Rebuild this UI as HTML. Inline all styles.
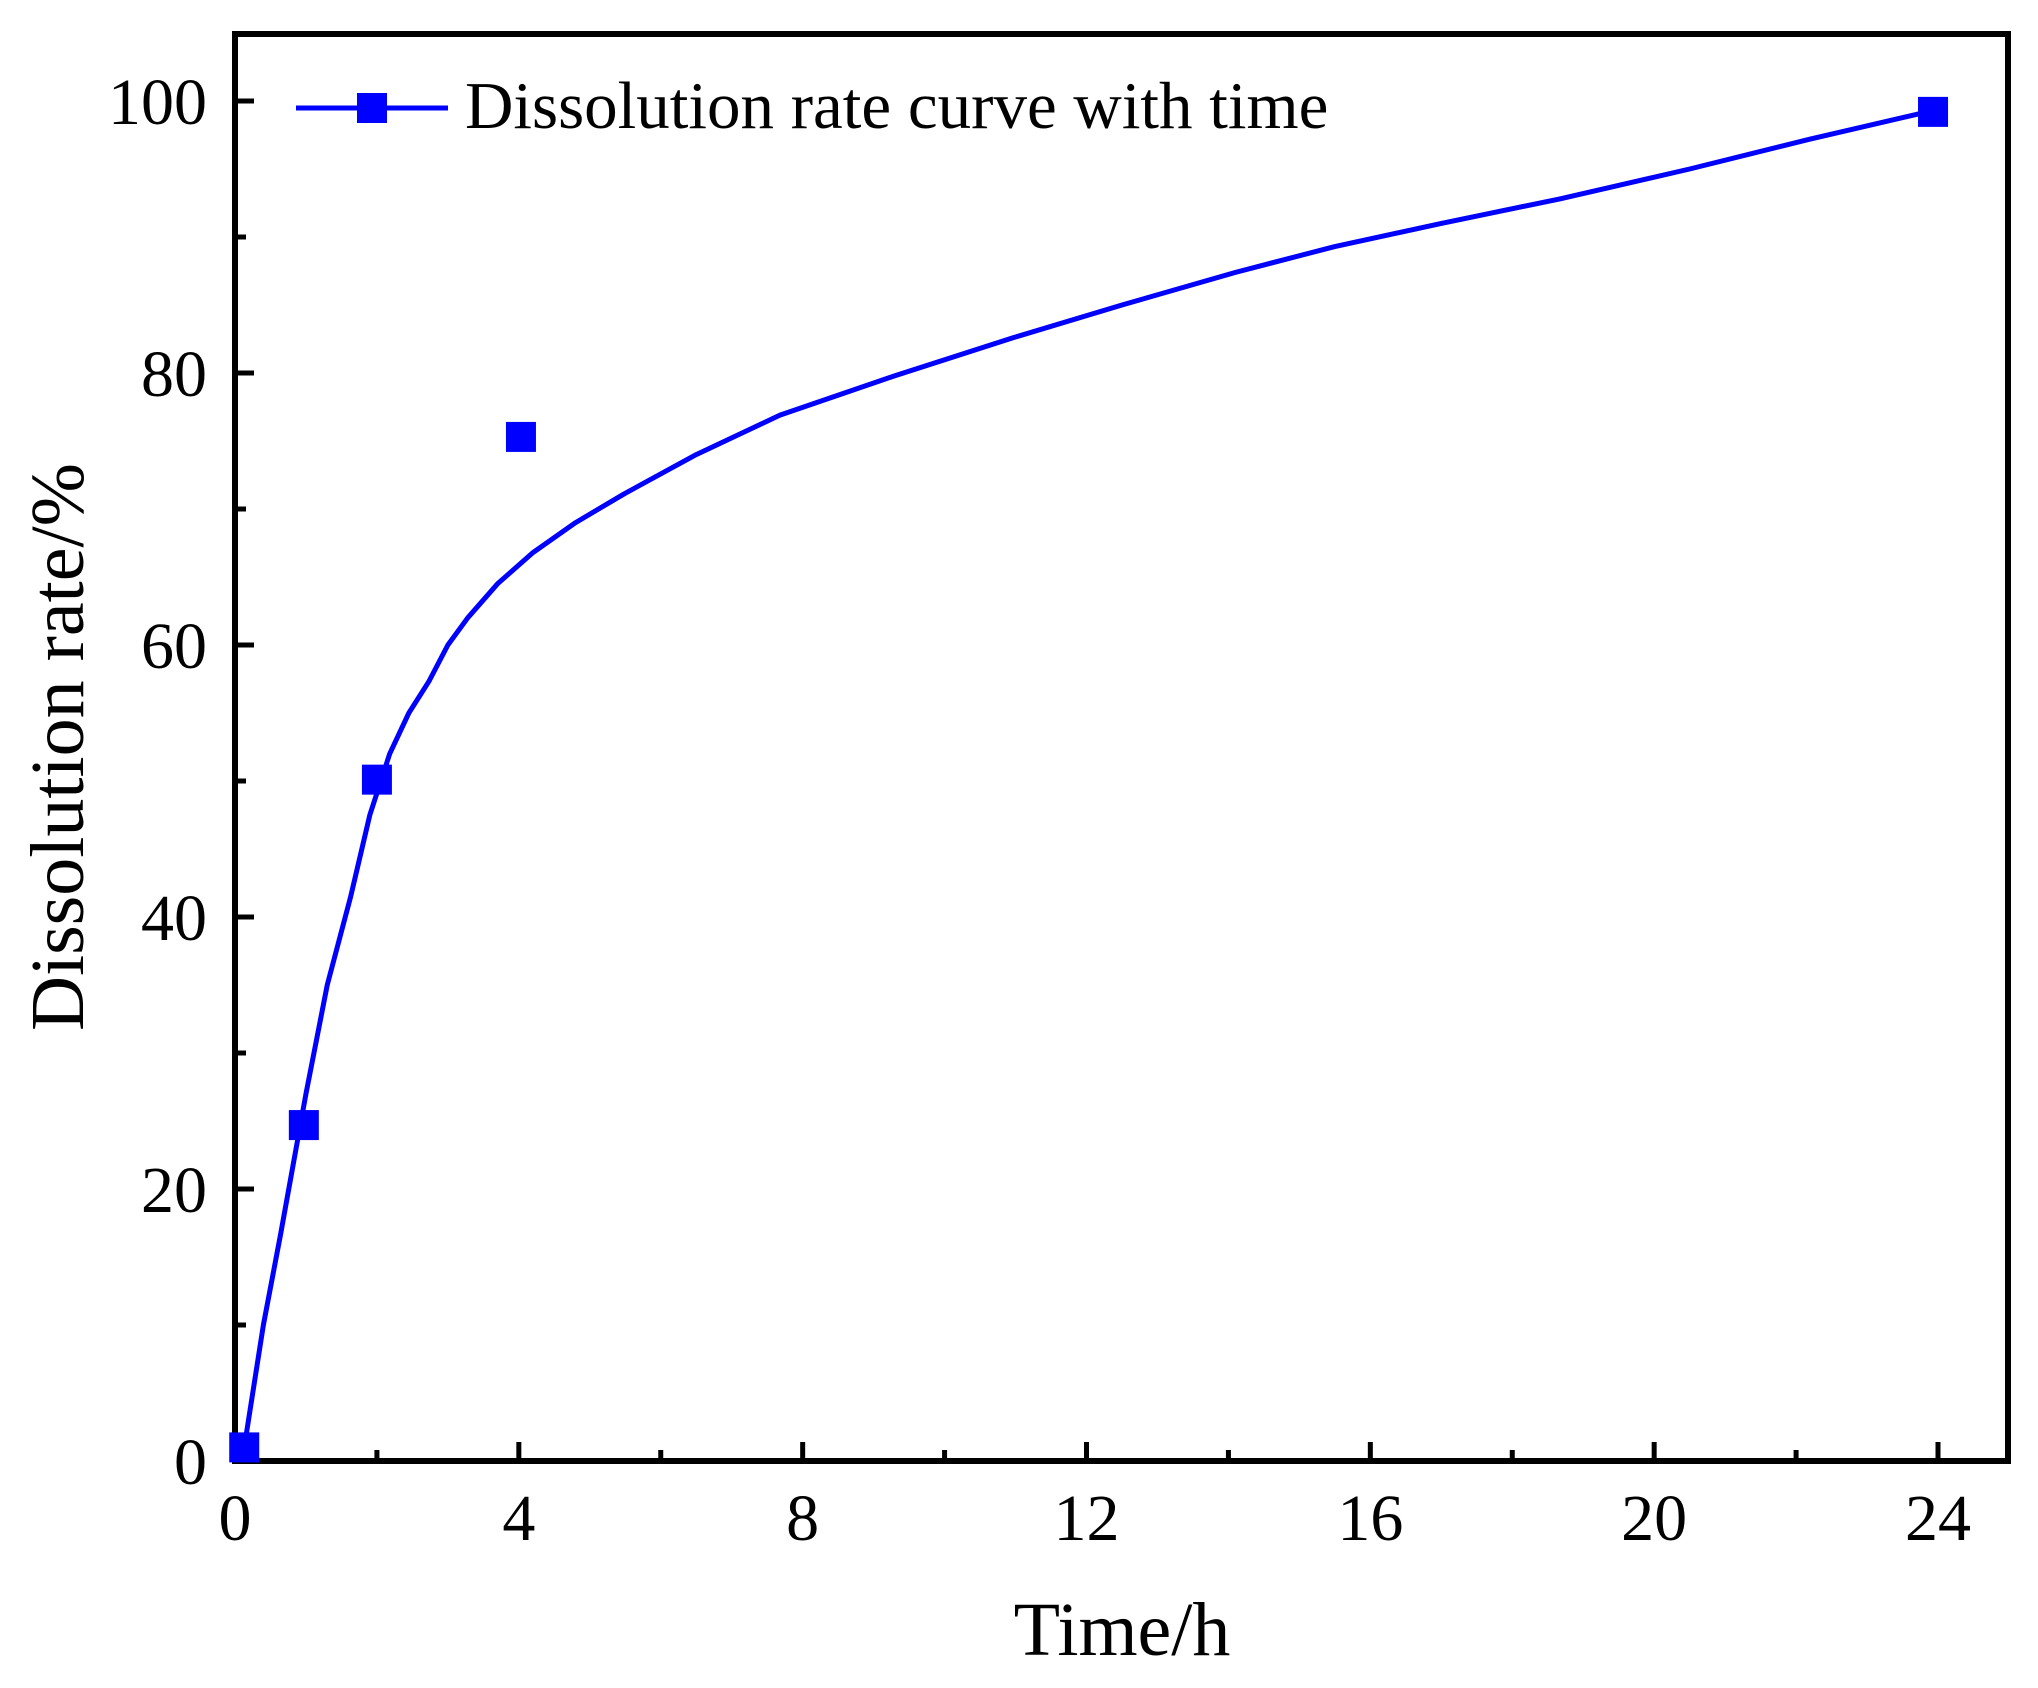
<!DOCTYPE html>
<html><head><meta charset="utf-8"><style>
html,body{margin:0;padding:0;background:#fff;}
svg{display:block;font-family:"Liberation Serif",serif;}
</style></head><body>
<svg id="chart" width="2038" height="1688" viewBox="0 0 2038 1688" xmlns="http://www.w3.org/2000/svg"></svg>
<script>
const pointTimes = [0.13, 0.97, 2.0, 4.03, 23.93];
const pointRates = [1.0, 24.7, 50.1, 75.3, 99.2];
const curveTimes = [0.1, 0.4, 0.64, 1.0, 1.3, 1.63, 1.9, 2.18, 2.45, 2.73, 3.0, 3.28, 3.7, 4.2, 4.8, 5.48, 6.5, 7.68, 9.3, 10.97, 12.5, 14.1, 15.5, 17.0, 18.67, 20.5, 22.2, 23.93];
const curveRates = [0, 10, 16.6, 27, 35, 41.5, 47.5, 52, 55, 57.3, 60, 62, 64.5, 66.8, 69, 71.1, 74, 76.9, 79.8, 82.6, 85, 87.4, 89.3, 91, 92.8, 95.0, 97.2, 99.3];
const xTicks = [0, 4, 8, 12, 16, 20, 24];
const yTicks = [0, 20, 40, 60, 80, 100];

const L = 235, R = 2008, T = 34, B = 1461;
const X = t => 235 + t * (1938 - 235) / 24;
const Y = v => 1461 - v * (1461 - 101) / 100;
const NS = "http://www.w3.org/2000/svg";
const svg = document.getElementById("chart");
function mk(tag, attrs, parent) {
  const e = document.createElementNS(NS, tag);
  for (const k in attrs) e.setAttribute(k, attrs[k]);
  (parent || svg).appendChild(e);
  return e;
}

for (let i = 0; i <= 12; i++) {
  const t = i * 2, major = i % 2 === 0;
  const tk = mk("line", {x1: X(t), x2: X(t), y1: B, y2: B - (major ? 19 : 11), stroke: "#000", "stroke-width": 5});
  
  
}
for (let i = 0; i <= 10; i++) {
  const v = i * 10, major = i % 2 === 0;
  const tk = mk("line", {x1: L, x2: L + (major ? 19 : 11), y1: Y(v), y2: Y(v), stroke: "#000", "stroke-width": 5});
  
  
}
xTicks.forEach(t => {
  const e = mk("text", {x: X(t), y: 1540, "font-size": 66, "text-anchor": "middle"});
  e.textContent = t;
  
  
});
yTicks.forEach(v => {
  const e = mk("text", {x: 207, y: Y(v) + 23, "font-size": 66, "text-anchor": "end"});
  e.textContent = v;
  
  
});

const frame = mk("rect", {x: L, y: T, width: R - L, height: B - T, fill: "none", stroke: "#000", "stroke-width": 6});



const pts = curveTimes.map((t, i) => X(t) + "," + Y(curveRates[i])).join(" ");
const curve = mk("polyline", {points: pts, fill: "none", stroke: "#0000ff", "stroke-width": 5, "stroke-linejoin": "round"});



pointTimes.forEach((t, i) => {
  const m = mk("rect", {x: X(t) - 15, y: Y(pointRates[i]) - 15, width: 30, height: 30, fill: "#0000ff"});
  
  
});

const lg = mk("g", {});


mk("line", {x1: 296, x2: 448, y1: 108, y2: 108, stroke: "#0000ff", "stroke-width": 5}, lg);
mk("rect", {x: 357, y: 93, width: 30, height: 30, fill: "#0000ff"}, lg);
const lt = mk("text", {x: 465, y: 128, "font-size": 67}, lg);
lt.textContent = "Dissolution rate curve with time";

const xt = mk("text", {x: 1122, y: 1655, "font-size": 76, "text-anchor": "middle"});
xt.textContent = "Time/h";


const yt = mk("text", {x: 0, y: 0, "font-size": 76, "text-anchor": "middle", transform: "translate(83,747) rotate(-90)"});
yt.textContent = "Dissolution rate/%";


</script>
</body></html>
